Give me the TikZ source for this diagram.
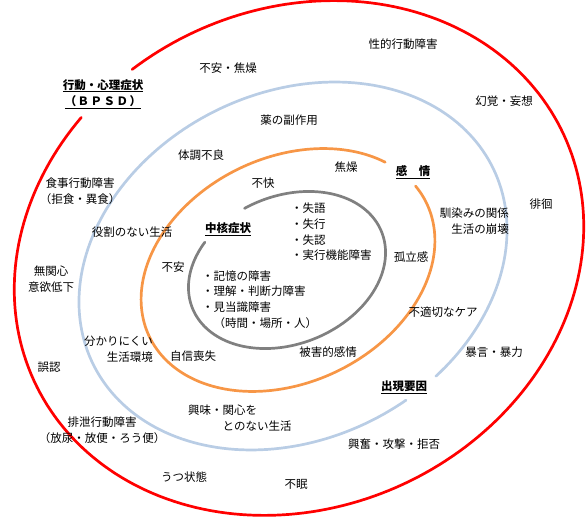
\documentclass[tikz,border=0pt]{standalone}
\usepackage{fontspec}
\setmainfont{Noto Sans CJK JP}
\definecolor{cred}{RGB}{255,0,0}
\definecolor{cblue}{RGB}{185,205,229}
\definecolor{corange}{RGB}{247,150,70}
\definecolor{cgray}{RGB}{128,128,128}
\tikzset{
  ring/.style={line width=2.7pt, line cap=round, line join=round},
  lbl/.style={inner sep=0pt, font=\fontsize{11.5}{16.5}\selectfont, align=center},
  head/.style={lbl, font=\fontsize{11.5}{16.5}\selectfont\bfseries},
  lst/.style={inner sep=0pt, font=\fontsize{11.5}{15.7}\selectfont, align=left, anchor=west}
}
\begin{document}
\begin{tikzpicture}[x=1pt,y=-1pt]
\useasboundingbox (0,0) rectangle (588,518);
% red outer ring: centre (299,258), a=292, b=249, tilt 25.2 deg
\draw[ring, cred] plot[domain=256:602, samples=220]
  ({299 + 292*cos(\x)*0.905 + 249*sin(\x)*0.426},
   {258 - 292*cos(\x)*0.426 + 249*sin(\x)*0.905});
% blue ring: centre (293,266), a=222.7, b=173.4, tilt 26.1 deg
\draw[ring, cblue] plot[domain=79:429, samples=200]
  ({293 + 222.7*cos(\x)*0.898 + 173.4*sin(\x)*0.440},
   {266 - 222.7*cos(\x)*0.440 + 173.4*sin(\x)*0.898});
% orange ring: centre (288,270), a=153.9, b=112.6, tilt 25.8 deg
\draw[ring, corange] plot[domain=-10.3:330.9, samples=180]
  ({288 + 153.9*cos(\x)*0.900 + 112.6*sin(\x)*0.435},
   {270 - 153.9*cos(\x)*0.435 + 112.6*sin(\x)*0.900});
% gray ring: centre (287,270), a=102, b=74, tilt 22 deg
\draw[ring, cgray] plot[domain=260.8:589.9, samples=160]
  ({287 + 102*cos(\x)*0.927 + 74*sin(\x)*0.375},
   {270 - 102*cos(\x)*0.375 + 74*sin(\x)*0.927});

% headings
\node[head] (bpsd) at (103,94) {\underline{行動・心理症状}\\\underline{（\kern1.5pt Ｂ\kern1.5pt Ｐ\kern1.5pt Ｓ\kern1.5pt Ｄ\kern1.5pt ）}};
\node[head] (kanjo) at (413,172) {\underline{感　情}};
\node[head] (chukaku) at (228,229) {\underline{中核症状}};
\node[head] (shutsugen) at (404,387) {\underline{出現要因}};

% outer ring labels
\node[lbl] (fuanshoso) at (228,68) {不安・焦燥};
\node[lbl] (seiteki) at (403,44) {性的行動障害};
\node[lbl] (genkaku) at (504,101) {幻覚・妄想};
\node[lbl] (shokuji) at (80,191) {食事行動障害\\（拒食・異食）};
\node[lbl] (haikai) at (541,204) {徘徊};
\node[lbl] (mukanshin) at (51,279) {無関心\\意欲低下};
\node[lbl] (goninn) at (49,367) {誤認};
\node[lbl] (bougen) at (494,352) {暴言・暴力};
\node[lbl] (haisetsu) at (102,430) {排泄行動障害\\（放尿・放便・ろう便）};
\node[lbl] (kofun) at (394,444) {興奮・攻撃・拒否};
\node[lbl] (utsu) at (184,477) {うつ状態};
\node[lbl] (fumin) at (296,484) {不眠};

% blue ring labels
\node[lbl] (kusuri) at (289,120) {薬の副作用};
\node[lbl] (taicho) at (201,155) {体調不良};
\node[lbl] (yakuwari) at (132,232) {役割のない生活};
\node[lbl, align=right, anchor=east] (wakari) at (153,349) {分かりにくい\\生活環境};
\node[lbl, align=right, anchor=east] (najimi) at (509,221) {馴染みの関係\\生活の崩壊};
\node[lbl] (futekisetsu) at (443,312) {不適切なケア};
\node[lbl, align=left, anchor=west] (kyomi) at (188,418) {興味・関心を\\\hspace{3em}とのない生活};

% orange ring labels
\node[lbl] (shoso) at (346,167) {焦燥};
\node[lbl] (fukai) at (263,183) {不快};
\node[lbl] (fuan) at (173,267) {不安};
\node[lbl] (jishin) at (193,356) {自信喪失};
\node[lbl] (koritsu) at (411,257) {孤立感};
\node[lbl] (higai) at (328,352) {被害的感情};

% core symptom lists
\node[lst] (listr) at (291,232) {・失語\\・失行\\・失認\\・実行機能障害};
\node[lst] (listl) at (202,299.5) {・記憶の障害\\・理解・判断力障害\\・見当識障害\\\hspace{1em}（時間・場所・人）};
\end{tikzpicture}
\end{document}
